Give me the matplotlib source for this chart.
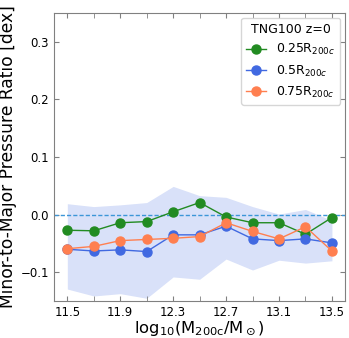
import matplotlib
matplotlib.use("Agg")
import matplotlib.pyplot as plt

# log10 halo mass bins
mass = [11.5, 11.7, 11.9, 12.1, 12.3, 12.5, 12.7, 12.9, 13.1, 13.3, 13.5]

ratio_025 = [-0.027, -0.028, -0.014, -0.012, 0.005, 0.021, -0.004, -0.014, -0.014, -0.034, -0.005]
ratio_050 = [-0.060, -0.063, -0.061, -0.064, -0.035, -0.035, -0.020, -0.042, -0.045, -0.042, -0.049]
ratio_075 = [-0.059, -0.055, -0.045, -0.043, -0.041, -0.038, -0.014, -0.029, -0.042, -0.021, -0.063]

# scatter band for 0.5 R200c
band_hi = [0.019, 0.014, 0.017, 0.021, 0.049, 0.033, 0.030, 0.014, 0.001, 0.009, -0.010]
band_lo = [-0.129, -0.141, -0.137, -0.145, -0.108, -0.112, -0.077, -0.096, -0.079, -0.084, -0.080]

xticks = [11.5, 11.9, 12.3, 12.7, 13.1, 13.5]
xticks_minor = [11.7, 12.1, 12.5, 12.9, 13.3]
yticks = [-0.1, 0.0, 0.1, 0.2, 0.3]

fig = plt.figure(figsize=(3.49, 3.38), dpi=100)
ax = fig.add_axes([0.155, 0.109, 0.834, 0.853])

ax.fill_between(mass, band_lo, band_hi, color="royalblue", alpha=0.2, lw=0)
ax.axhline(0.0, color="#3c96d8", ls=(0, (3, 1.5)), lw=1.0)

ax.plot(mass, ratio_025, "-o", color="forestgreen", ms=6.5, lw=1, label=r"0.25R$_{200c}$")
ax.plot(mass, ratio_050, "-o", color="royalblue", ms=6.5, lw=1, label=r"0.5R$_{200c}$")
ax.plot(mass, ratio_075, "-o", color="coral", ms=6.5, lw=1, label=r"0.75R$_{200c}$")

ax.set_xlim(11.4, 13.6)
ax.set_ylim(-0.15, 0.35)
ax.set_xticks(xticks)
ax.set_xticks(xticks_minor, minor=True)
ax.set_yticks(yticks)
ax.tick_params(which="both", direction="in", top=True, right=True,
               labelsize=8.5, color="grey", length=3.5)
for s in ax.spines.values():
    s.set_color("grey")

ax.set_xlabel(r"$\mathregular{log_{10}(M_{200c}/M_\odot)}$", fontsize=11.8, labelpad=0)
ax.set_ylabel("Minor-to-Major Pressure Ratio [dex]", fontsize=12.3, labelpad=3)

leg = ax.legend(title="TNG100 z=0", loc="upper right", fontsize=9,
                title_fontsize=9, handlelength=1.6, borderaxespad=0.4)

fig.savefig("out.png", dpi=100)
